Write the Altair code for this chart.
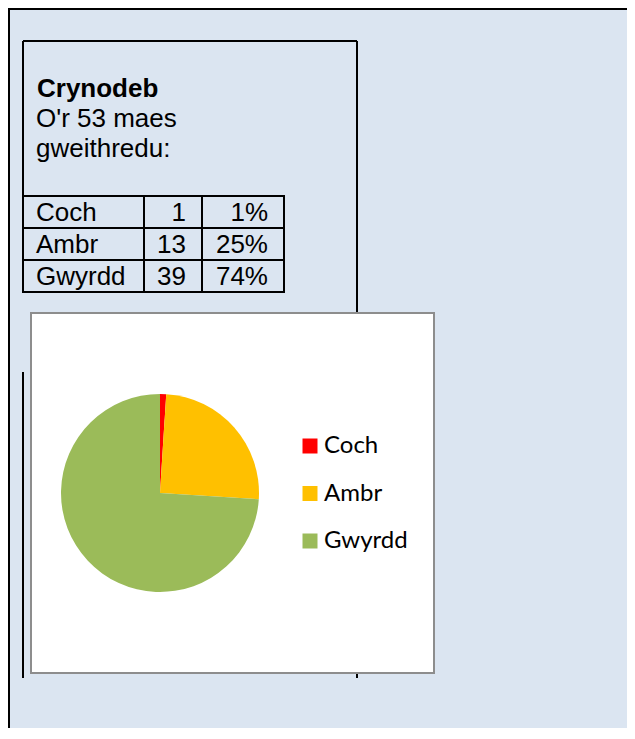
import altair as alt
import pandas as pd

# ---- data ----
categories = ["Coch", "Ambr", "Gwyrdd"]
counts = [1, 13, 39]
percents = [1, 25, 74]
colors = ["#FF0000", "#FFC000", "#9BBB59"]
title_text = "Crynodeb"
subtitle_lines = ["O'r 53 maes", "gweithredu:"]

df = pd.DataFrame({
    "category": categories,
    "count": counts,
    "percent": percents,
    "pct_label": [f"{p}%" for p in percents],
    "order": list(range(len(categories))),
})

FONT = "Liberation Sans"
BG = "#DBE5F1"
W, H = 619, 720
one = alt.Data(values=[{}])


def rule(x, y, x2=None, y2=None, color="black", width=2):
    enc = {"x": alt.value(x), "y": alt.value(y)}
    if x2 is not None:
        enc["x2"] = alt.value(x2)
    if y2 is not None:
        enc["y2"] = alt.value(y2)
    return alt.Chart(one).mark_rule(color=color, strokeWidth=width).encode(**enc)


# outer page border (top + left)
outer_top = rule(0, 1, x2=W)
outer_left = rule(1, 0, y2=H)

# inner box lines
inner_top = rule(15, 33, x2=349)
inner_left_a = rule(15, 33, y2=284)
inner_left_b = rule(15, 364, y2=670)
inner_right = rule(349, 33, y2=670)

# heading texts
heading = alt.Chart(one).mark_text(
    text=title_text, font=FONT, fontSize=26, fontWeight="bold",
    align="left", baseline="alphabetic", color="black"
).encode(x=alt.value(29), y=alt.value(89))

sub = alt.Chart(one).mark_text(
    text=subtitle_lines, font=FONT, fontSize=26, lineHeight=30,
    align="left", baseline="alphabetic", color="black"
).encode(x=alt.value(28), y=alt.value(119))

# table
yscale = alt.Scale(type="band", domain=categories, range=[188, 284],
                   paddingInner=0, paddingOuter=0)

rows = alt.Chart(df).mark_rect(fill=None, stroke="black", strokeWidth=2).encode(
    y=alt.Y("category:N", scale=yscale, axis=None),
    x=alt.value(15), x2=alt.value(276),
)
col1 = rule(136, 188, y2=284)
col2 = rule(194, 188, y2=284)

txt_kw = dict(font=FONT, fontSize=26, baseline="alphabetic", dy=25, color="black")
lab = alt.Chart(df).mark_text(align="left", **txt_kw).encode(
    y=alt.Y("category:N", scale=yscale, axis=None, bandPosition=0),
    x=alt.value(28), text="category:N",
)
cnt = alt.Chart(df).mark_text(align="right", **txt_kw).encode(
    y=alt.Y("category:N", scale=yscale, axis=None, bandPosition=0),
    x=alt.value(178), text="count:Q",
)
pct = alt.Chart(df).mark_text(align="right", **txt_kw).encode(
    y=alt.Y("category:N", scale=yscale, axis=None, bandPosition=0),
    x=alt.value(260), text="pct_label:N",
)

# chart box
box = alt.Chart(one).mark_rect(fill="white", stroke="#8D8D8D", strokeWidth=2).encode(
    x=alt.value(23), x2=alt.value(426), y=alt.value(305), y2=alt.value(665)
)

# pie
pie = alt.Chart(df).mark_arc(radius=99).encode(
    theta=alt.Theta("percent:Q", stack=True),
    order=alt.Order("order:Q"),
    color=alt.Color(
        "category:N",
        scale=alt.Scale(domain=categories, range=colors),
        legend=alt.Legend(
            orient="none", legendX=290, legendY=426, title=None,
            symbolType="square", symbolSize=225, symbolStrokeWidth=0,
            labelFont="Lato", labelFontSize=24, labelColor="black",
            labelOffset=2, rowPadding=23.5, padding=0,
        ),
    ),
    x=alt.value(152), y=alt.value(485),
)

chart = alt.layer(
    outer_top, outer_left, inner_top, inner_left_a, inner_left_b, inner_right,
    heading, sub, rows, col1, col2, lab, cnt, pct, box, pie,
).properties(
    width=W, height=H, padding=0,
    autosize=alt.AutoSizeParams(type="none"),
    background=BG,
).configure_view(strokeWidth=0)

chart.save("out.html", embed_options={"renderer": "svg", "actions": False})
